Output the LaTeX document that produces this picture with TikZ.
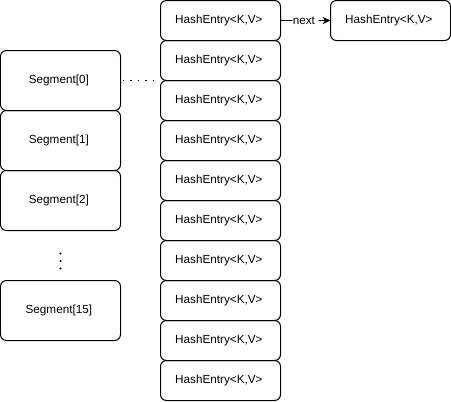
\documentclass[tikz,border=0pt]{standalone}
\usepackage{fontspec}
\setmainfont{Liberation Sans}
\usetikzlibrary{positioning, arrows.meta}

\begin{document}
\begin{tikzpicture}[x = 0.75pt, y = -0.75pt, line width = 0.75pt,
    every node/.style = { draw, align = center, shape = rectangle, rounded corners = 4.5pt,
                          outer sep = 0pt, font = \fontsize{8.8}{10}\selectfont },
    seg/.style = { minimum width = 90pt, minimum height = 45pt },
    entry/.style = { minimum width = 90pt, minimum height = 30pt }]
    \useasboundingbox (0,0) rectangle (451,401);

    % segments
    \node [seg] (seg0) at (60.5,80.5) { Segment[0] };
    \node [seg, below = 0pt of seg0] (seg1) { Segment[1] };
    \node [seg, below = 0pt of seg1] (seg2) { Segment[2] };
    \node [seg, below = 37.5pt of seg2] (seg15) { Segment[15] };
    \fill (seg2.south) ++(0,23) circle (1.1) ++(0,7.5) circle (1.1) ++(0,7.5) circle (1.1);

    % hash entries of segment 0
    \node [entry] (e0) at (220.5,20.5) { HashEntry<K,V> };
    \node [entry, below = 0pt of e0] (e1) { HashEntry<K,V> };
    \node [entry, below = 0pt of e1] (e2) { HashEntry<K,V> };
    \node [entry, below = 0pt of e2] (e3) { HashEntry<K,V> };
    \node [entry, below = 0pt of e3] (e4) { HashEntry<K,V> };
    \node [entry, below = 0pt of e4] (e5) { HashEntry<K,V> };
    \node [entry, below = 0pt of e5] (e6) { HashEntry<K,V> };
    \node [entry, below = 0pt of e6] (e7) { HashEntry<K,V> };
    \node [entry, below = 0pt of e7] (e8) { HashEntry<K,V> };
    \node [entry, below = 0pt of e8] (e9) { HashEntry<K,V> };
    \node [entry, right = 37.5pt of e0] (nx) { HashEntry<K,V> };

    \draw [line width = 1.1pt, dash pattern = on 1.1pt off 4.6pt, shorten < = 1.5pt, shorten > = 5pt]
        (seg0.east) -- (e1.south west);
    \draw [-{Stealth[length = 6pt, width = 5.5pt]}] (e0.east) -- node [draw = none, fill = white, inner sep = 0.3pt] { next } (nx.west);
\end{tikzpicture}
\end{document}
